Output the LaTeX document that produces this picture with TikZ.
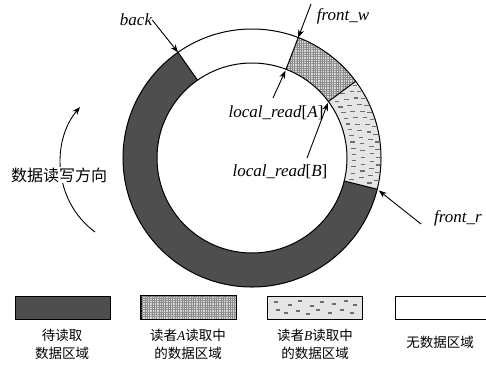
\documentclass[tikz,border=0pt]{standalone}
\usepackage{fontspec}
\setmainfont{Liberation Serif}
\newfontfamily\cjk{Noto Sans CJK SC}
\usetikzlibrary{arrows.meta,patterns.meta,calc}
\definecolor{darkfill}{RGB}{78,78,78}
\definecolor{dashcol}{RGB}{110,110,110}
\begin{document}
\begin{tikzpicture}[x=1pt,y=-1pt,
  lab/.style={font=\fontsize{17}{19}\selectfont\itshape, inner sep=0pt},
  ptr/.style={line width=0.9pt, -{Stealth[length=8pt,width=6pt]}},
  legtext/.style={font=\fontsize{13.5}{18}\selectfont\cjk, align=center, inner sep=0pt},
  legbox/.style={draw, line width=1pt, minimum width=95pt, minimum height=23pt, inner sep=0pt},
  ringline/.style={line width=1pt},
  gridfill/.style={pattern={Hatch[distance=2.3pt,line width=0.3pt]}, pattern color=black!45},
  dashmark/.style={line width=1.1pt, dashcol}
]
\useasboundingbox (0,0) rectangle (486,367);

% ---------- ring ----------
\begin{scope}[shift={(252,158)}, yscale=-1]
  \fill[darkfill] (125:95) arc[start angle=125,end angle=346,radius=95]
     -- (346:129) arc[start angle=346,end angle=125,radius=129] -- cycle;
  \fill[black!15] (36.5:95) arc[start angle=36.5,end angle=69,radius=95]
     -- (69:129) arc[start angle=69,end angle=36.5,radius=129] -- cycle;
  \fill[gridfill] (36.5:95) arc[start angle=36.5,end angle=69,radius=95]
     -- (69:129) arc[start angle=69,end angle=36.5,radius=129] -- cycle;
  \fill[black!10] (-14:95) arc[start angle=-14,end angle=36.5,radius=95]
     -- (36.5:129) arc[start angle=36.5,end angle=-14,radius=129] -- cycle;
  \begin{scope}
    \clip (-14:95) arc[start angle=-14,end angle=36.5,radius=95]
     -- (36.5:129) arc[start angle=36.5,end angle=-14,radius=129] -- cycle;
    \foreach \r/\o in {102/0,111/1.8,120/0,126/1.8}
      \foreach \a in {-12,-8.5,...,36}
        \draw[dashmark] (\a+\o:\r) ++(-2.3,0) -- ++(4.6,0);
  \end{scope}
  \draw[ringline] (0,0) circle[radius=129];
  \draw[ringline] (0,0) circle[radius=95];
  \foreach \a in {125,69,36.5,-14}
    \draw[ringline] (\a:95) -- (\a:129);
  \coordinate (backpt) at (125:129);
  \coordinate (fwpt) at (69:129);
  \coordinate (lrapt) at (69:95);
  \coordinate (lrbpt) at (36.5:95);
  \coordinate (frpt) at (-14:129);
\end{scope}

% ---------- labels ----------
\node[lab] (back) at (136,20) {back};
\node[lab] (fw) at (343,16) {front\_w};
\node[lab] (lra) at (276,113) {local\_read\textup{[}A\textup{]}};
\node[lab] (lrb) at (280,172) {local\_read\textup{[}B\textup{]}};
\node[lab] (fr) at (458,218) {front\_r};

\coordinate (fwtail) at (311,4);
\coordinate (lratail) at (273,98);
\coordinate (lrbtail) at (307,158);
\coordinate (frtail) at (421,224);

\draw[ptr] (back.east) -- (backpt);
\draw[ptr] (fwtail) -- (fwpt);
\draw[ptr, shorten >=1.5pt] (lratail) -- (lrapt);
\draw[ptr, shorten >=1.5pt] (lrbtail) -- (lrbpt);
\draw[ptr, shorten >=2pt] (frtail) -- (frpt);

% ---------- direction ----------
\coordinate (dirstart) at (95,232);
\coordinate (dirend) at (80,107);
\draw[ptr] (dirstart) .. controls (52,200) and (52,140) .. (dirend);
\node[fill=white, inner sep=1pt, font=\fontsize{16}{18}\selectfont\cjk] (dir) at (59,175) {数据读写方向};

% ---------- legend ----------
\node[legbox, fill=darkfill] (k1) at (62.5,307.5) {};
\node[legbox, fill=black!15] (k2) at (188.5,307.5) {};
\fill[gridfill] (k2.south west) rectangle (k2.north east);
\draw[line width=1pt] (k2.south west) rectangle (k2.north east);
\node[legbox, fill=black!10] (k3) at (315,307.5) {};
\foreach \px/\py in {276/302,290/305,300/301,312/306,322/302,334/304,346/301,355/305,
                     278/310,286/313,298/311,308/314,318/310,330/313,342/310,352/313}
  \draw[dashmark] (\px-2.3,\py) -- (\px+2.3,\py);
\node[legbox, minimum width=100pt, anchor=west] (k4) at (395,307.5) {};

\node[legtext] (t1) at (62,344) {待读取\\数据区域};
\node[legtext] (t2) at (188,344) {读者\textit{\fontspec{Liberation Serif}A}读取中\\的数据区域};
\node[legtext] (t3) at (315,344) {读者\textit{\fontspec{Liberation Serif}B}读取中\\的数据区域};
\node[legtext] (t4) at (440,342) {无数据区域};
\end{tikzpicture}
\end{document}
